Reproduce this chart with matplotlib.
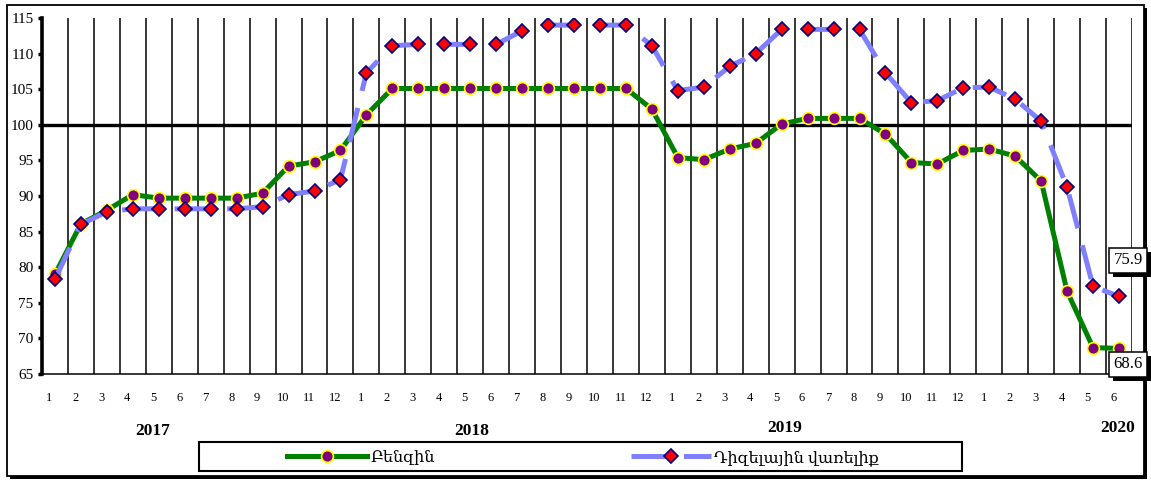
import matplotlib
matplotlib.use("Agg")
import matplotlib.pyplot as plt
from matplotlib.patches import Rectangle
from matplotlib.transforms import ScaledTranslation, blended_transform_factory
import matplotlib.patheffects as pe

plt.rcParams['font.family'] = ['Liberation Serif', 'DejaVu Serif']

# ---------------- data ----------------
months = [1, 2, 3, 4, 5, 6, 7, 8, 9, 10, 11, 12,
          1, 2, 3, 4, 5, 6, 7, 8, 9, 10, 11, 12,
          1, 2, 3, 4, 5, 6, 7, 8, 9, 10, 11, 12,
          1, 2, 3, 4, 5, 6]
years = ["2017", "2018", "2019", "2020"]
year_pos = [3.78, 16.07, 28.13, 40.96]   # label centre (category units)
year_y = [431, 431, 428, 428]            # label centre (pixels from top)

petrol = [79.0, 86.1, 88.0, 90.2, 89.7, 89.7, 89.7, 89.7, 90.4, 94.2, 94.8, 96.4,
          101.4, 105.1, 105.1, 105.1, 105.1, 105.1, 105.1, 105.1, 105.1, 105.1, 105.1, 102.2,
          95.4, 95.1, 96.6, 97.4, 100.1, 100.9, 100.9, 100.9, 98.7, 94.7, 94.5, 96.4,
          96.6, 95.6, 92.1, 76.6, 68.7, 68.6]
diesel = [78.3, 86.0, 87.8, 88.2, 88.2, 88.2, 88.2, 88.2, 88.5, 90.2, 90.7, 92.3,
          107.3, 111.1, 111.3, 111.3, 111.3, 111.3, 113.2, 114.0, 114.0, 114.0, 114.0, 111.1,
          104.8, 105.3, 108.2, 110.0, 113.4, 113.4, 113.4, 113.4, 107.3, 103.1, 103.4, 105.2,
          105.3, 103.6, 100.5, 91.2, 77.3, 75.9]
series_names = ["Բենզին", "Դիզելային վառելիք"]
yticks = [65, 70, 75, 80, 85, 90, 95, 100, 105, 110, 115]

# ---------------- figure ----------------
W, H = 1151, 480
fig = plt.figure(figsize=(W / 100, H / 100), dpi=100)
L, R, T, B = 42, 1132, 18, 374
ax = fig.add_axes([L / W, 1 - B / H, (R - L) / W, (B - T) / H])

n = len(months)
x = list(range(n))
ax.set_xlim(-0.5, n - 0.5)
ax.set_ylim(65, 115)

# vertical category gridlines
for i in range(n):
    ax.axvline(i + 0.5, color='black', lw=1.1, zorder=1)
# 100 axis line
ax.axhline(100, color='black', lw=2.4, zorder=2)

for s in ['top', 'right']:
    ax.spines[s].set_visible(False)
ax.spines['left'].set_linewidth(2.6)
ax.spines['bottom'].set_linewidth(1.1)

ax.set_yticks(yticks)
ax.set_yticklabels([str(v) for v in yticks], fontsize=11)
ax.tick_params(axis='y', length=3, width=2.5, pad=3)
ax.set_xticks(x)
ax.set_xticklabels([str(m) for m in months], fontsize=9)
ax.tick_params(axis='x', length=0, pad=13)
for lbl in ax.get_xticklabels():
    lbl.set_transform(lbl.get_transform() + ScaledTranslation(-0.055, 0, fig.dpi_scale_trans))

# series
lp, = ax.plot(x, petrol, color='#008000', lw=3.6, solid_joinstyle='round',
              marker='o', markersize=8.5, markerfacecolor='#800080',
              markeredgecolor='#FFFF00', markeredgewidth=1.2, zorder=3,
              label=series_names[0])
ld, = ax.plot(x, diesel, color='#8080FF', lw=3.6, linestyle=(0, (7, 3.5)),
              marker='D', markersize=7.2, markerfacecolor='#FF0000',
              markeredgecolor='#000080', markeredgewidth=1.2, zorder=4,
              label=series_names[1])

# data labels on last points
shadow = [pe.SimplePatchShadow(offset=(3, -3), shadow_rgbFace='black', alpha=1), pe.Normal()]
for vals, off in [(diesel, (6.5, 26)), (petrol, (6.5, -11.5))]:
    t = ax.annotate(f"{vals[-1]:.1f}", xy=(n - 1, vals[-1]), xytext=off,
                    textcoords='offset points', ha='center', va='center', fontsize=12,
                    bbox=dict(boxstyle='square,pad=0.28', fc='white', ec='black', lw=1.1),
                    zorder=6, annotation_clip=False)
    t.get_bbox_patch().set_path_effects(shadow)

# year labels
tr = blended_transform_factory(ax.transData, fig.transFigure)
for yr, xp, yp in zip(years, year_pos, year_y):
    fig.text(xp, 1 - yp / H, yr, transform=tr, ha='center', va='center',
             fontsize=12.5, fontweight='bold')

# legend
fig.patches.append(Rectangle((199 / W, 1 - 471 / H), (962 - 199) / W, (471 - 442) / H,
                             transform=fig.transFigure, fill=False, ec='black', lw=1.5))
leg = fig.legend(handles=[lp, ld], loc='center', bbox_to_anchor=(583 / W, 1 - 458 / H),
                 ncol=2, frameon=False, fontsize=11.5, handlelength=5.0,
                 handletextpad=0.2, columnspacing=12.3, numpoints=1)

# outer frame with shadow
fig.patches.append(Rectangle((10 / W, 1 - 479 / H), (1147 - 10) / W, (479 - 8) / H,
                             transform=fig.transFigure, fc='black', ec='black', lw=0, zorder=-2))
fig.patches.append(Rectangle((7 / W, 1 - 476 / H), (1144 - 7) / W, (476 - 5) / H,
                             transform=fig.transFigure, fc='white', ec='black', lw=1.3, zorder=-1))

fig.savefig("out.png", dpi=100)
